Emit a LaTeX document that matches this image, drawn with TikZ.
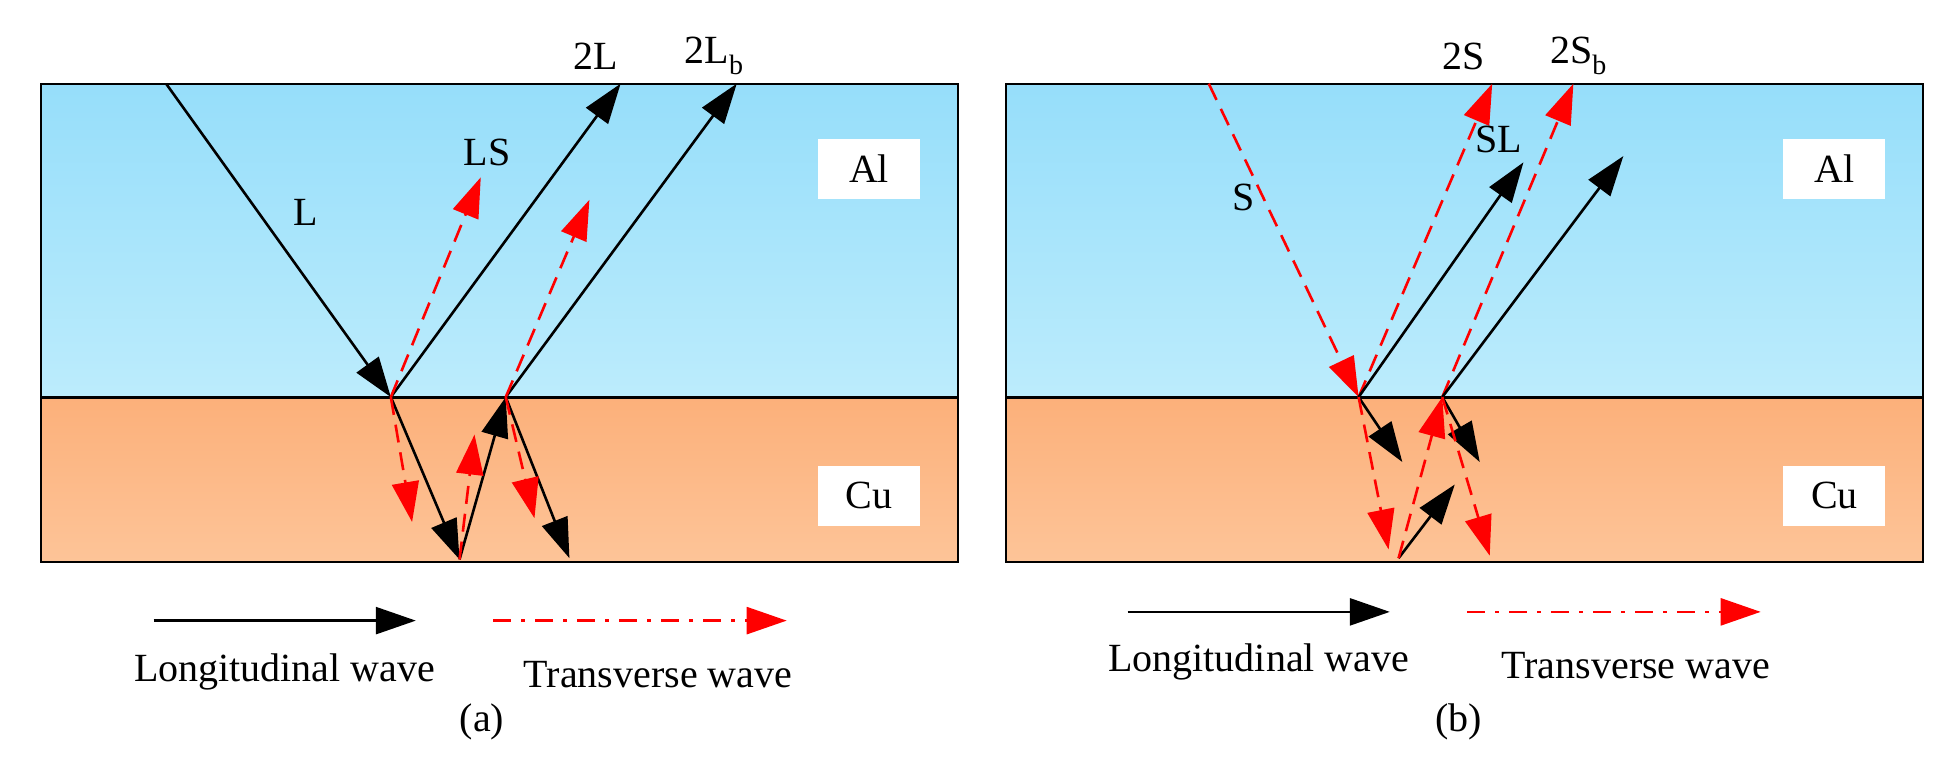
\documentclass[tikz,border=0pt]{standalone}
\usepackage{fontspec}
\setmainfont{Liberation Serif}
\usetikzlibrary{arrows.meta}
\definecolor{alT}{RGB}{150,222,250}
\definecolor{alB}{RGB}{188,236,252}
\definecolor{cuT}{RGB}{252,176,122}
\definecolor{cuB}{RGB}{253,196,152}
\begin{document}
\begin{tikzpicture}[x=1.2487pt,y=-1.2487pt,
  tip/.style={-{Triangle[length=40pt,width=27pt]}},
  lw/.style={tip,line width=2.6pt,black},
  tw/.style={tip,line width=2.6pt,red,dash pattern=on 18pt off 10pt},
  lab/.style={font=\fontsize{40}{44}\selectfont},
  box/.style={fill=white,minimum width=102pt,minimum height=60pt,font=\fontsize{40}{44}\selectfont}]
\useasboundingbox (0,0) rectangle (1560,612);
\foreach \x in {33,806}{
  \shade[top color=alT,bottom color=alB] (\x,67) rectangle ++(734,251);
  \shade[top color=cuT,bottom color=cuB] (\x,318) rectangle ++(734,132);
  \draw[line width=2pt] (\x,67) rectangle ++(734,383);
  \draw[line width=3pt] (\x,318) -- ++(734,0);
}
% panel a
\coordinate (a0) at (133,67);
\coordinate (a1) at (313,318);
\coordinate (a2) at (368,448);
\coordinate (a3) at (405,318);
\coordinate (a2L) at (497,67);
\coordinate (aLS) at (385,142);
\coordinate (a2Lb) at (590,67);
\coordinate (aS2) at (472,160);
\coordinate (ad1) at (330,418);
\coordinate (au1) at (380,348);
\coordinate (ad2) at (456,447);
\coordinate (ad3) at (428,415);
\draw[lw] (a0) -- (a1);
\draw[lw] (a1) -- (a2L);
\draw[tw] (a1) -- (aLS);
\draw[lw] (a1) -- (a2);
\draw[tw] (a1) -- (ad1);
\draw[lw] (a2) -- (a3);
\draw[tw] (a2) -- (au1);
\draw[lw] (a3) -- (a2Lb);
\draw[tw] (a3) -- (aS2);
\draw[lw] (a3) -- (ad2);
\draw[tw] (a3) -- (ad3);
\node[lab] (tL) at (245,170) {L};
\node[lab] (tLS) at (390,122) {LS};
\node[lab] (t2L) at (477,45) {2L};
\node[lab] (t2Lb) at (572,45) {2L$_\mathrm{b}$};
\node[box] (alA) at (696,135) {Al};
\node[box] (cuA) at (696,397) {Cu};
\coordinate (la1) at (123,497); \coordinate (la2) at (333,497);
\coordinate (lb1) at (395,497); \coordinate (lb2) at (630,497);
\draw[lw] (la1) -- (la2);
\draw[tip,line width=2.6pt,red,dash pattern=on 18pt off 10pt on 4pt off 10pt] (lb1) -- (lb2);
\node[lab] (lgA) at (228,538) {Longitudinal wave};
\node[lab] (tgA) at (527,540) {Transverse wave};
\node[lab] (capA) at (386,578) {(a)};
% panel b
\coordinate (b0) at (968,67);
\coordinate (b1) at (1088,318);
\coordinate (b2) at (1120,447);
\coordinate (b3) at (1155,318);
\coordinate (b2S) at (1195,67);
\coordinate (bSL) at (1220,130);
\coordinate (bd1) at (1123,370);
\coordinate (bd2) at (1112,440);
\coordinate (bu1) at (1165,388);
\coordinate (b2Sb) at (1260,67);
\coordinate (bL2) at (1300,125);
\coordinate (bd3) at (1185,370);
\coordinate (bd4) at (1193,445);
\draw[tw] (b0) -- (b1);
\draw[tw] (b1) -- (b2S);
\draw[lw] (b1) -- (bSL);
\draw[lw] (b1) -- (bd1);
\draw[tw] (b1) -- (bd2);
\draw[lw] (b2) -- (bu1);
\draw[tw] (b2) -- (b3);
\draw[tw] (b3) -- (b2Sb);
\draw[lw] (b3) -- (bL2);
\draw[lw] (b3) -- (bd3);
\draw[tw] (b3) -- (bd4);
\node[lab] (tS) at (996,158) {S};
\node[lab] (tSL) at (1200,112) {SL};
\node[lab] (t2S) at (1172,45) {2S};
\node[lab] (t2Sb) at (1264,45) {2S$_\mathrm{b}$};
\node[box] (alB) at (1469,135) {Al};
\node[box] (cuB) at (1469,397) {Cu};
\coordinate (lc1) at (903,490); \coordinate (lc2) at (1113,490);
\coordinate (ld1) at (1175,490); \coordinate (ld2) at (1410,490);
\draw[lw] (lc1) -- (lc2);
\draw[tip,line width=2.6pt,red,dash pattern=on 18pt off 10pt on 4pt off 10pt] (ld1) -- (ld2);
\node[lab] (lgB) at (1008,530) {Longitudinal wave};
\node[lab] (tgB) at (1310,533) {Transverse wave};
\node[lab] (capB) at (1168,578) {(b)};
\end{tikzpicture}
\end{document}
